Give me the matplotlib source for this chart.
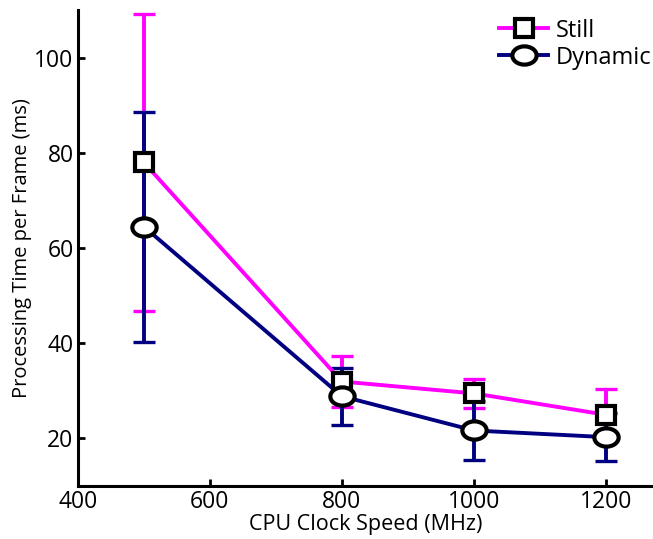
import numpy as np
import matplotlib
matplotlib.use("Agg")
import matplotlib.pyplot as plt
from matplotlib.path import Path
from matplotlib.transforms import Affine2D

# data
clock_mhz = [500, 800, 1000, 1200]
still_mean = [78.0, 31.9, 29.4, 24.9]
still_err = [31.2, 5.4, 3.1, 5.4]
dynamic_mean = [64.5, 28.8, 21.6, 20.2]
dynamic_err = [24.2, 6.0, 6.2, 5.0]

plt.rcParams["font.family"] = ["Open Sans", "DejaVu Sans"]

magenta = "#ff00ff"
navy = "#000080"

# circles in the original are slightly squashed
ellipse = Path.unit_circle().transformed(Affine2D().scale(1, 0.75))

fig = plt.figure(figsize=(6.53, 5.39), dpi=100)
ax = fig.add_axes([0.119, 0.099, 0.881, 0.882])

ax.errorbar(clock_mhz, still_mean, yerr=still_err, fmt="none", ecolor=magenta,
            elinewidth=2.8, capsize=8, capthick=2.4, zorder=2)
ax.errorbar(clock_mhz, dynamic_mean, yerr=dynamic_err, fmt="none", ecolor=navy,
            elinewidth=2.8, capsize=8, capthick=2.4, zorder=3)

ax.plot(clock_mhz, still_mean, color=magenta, lw=2.8, zorder=4)
ax.plot(clock_mhz, dynamic_mean, color=navy, lw=2.8, zorder=4)
ax.plot(clock_mhz, still_mean, ls="none", marker="s", ms=13.5, mfc="white",
        mec="black", mew=3, zorder=5)
ax.plot(clock_mhz, dynamic_mean, ls="none", marker=ellipse, ms=17.5, mfc="white",
        mec="black", mew=3, zorder=6)

# legend handles
h1, = ax.plot([], [], color=magenta, lw=2.8, marker="s", ms=13.5, mfc="white",
              mec="black", mew=3)
h2, = ax.plot([], [], color=navy, lw=2.8, marker=ellipse, ms=17.5, mfc="white",
              mec="black", mew=3)
ax.legend([h1, h2], ["Still", "Dynamic"], loc="upper right", frameon=False,
          fontsize=17, handlelength=2.1, handletextpad=0.3, labelspacing=0.12,
          borderaxespad=0.0, bbox_to_anchor=(1.013, 1.002))

ax.set_xlim(400, 1271)
ax.set_ylim(10, 110)
ax.set_xticks([400, 600, 800, 1000, 1200])
ax.set_yticks([20, 40, 60, 80, 100])
ax.tick_params(direction="in", length=5, width=2, labelsize=16.5, pad=3)
for side in ["top", "right"]:
    ax.spines[side].set_visible(False)
for side in ["left", "bottom"]:
    ax.spines[side].set_linewidth(2.2)

ax.set_xlabel("CPU Clock Speed (MHz)", fontsize=15.5, labelpad=0)
ax.set_ylabel("Processing Time per Frame (ms)", fontsize=14.5, labelpad=2)

fig.savefig("out.png", dpi=100)
